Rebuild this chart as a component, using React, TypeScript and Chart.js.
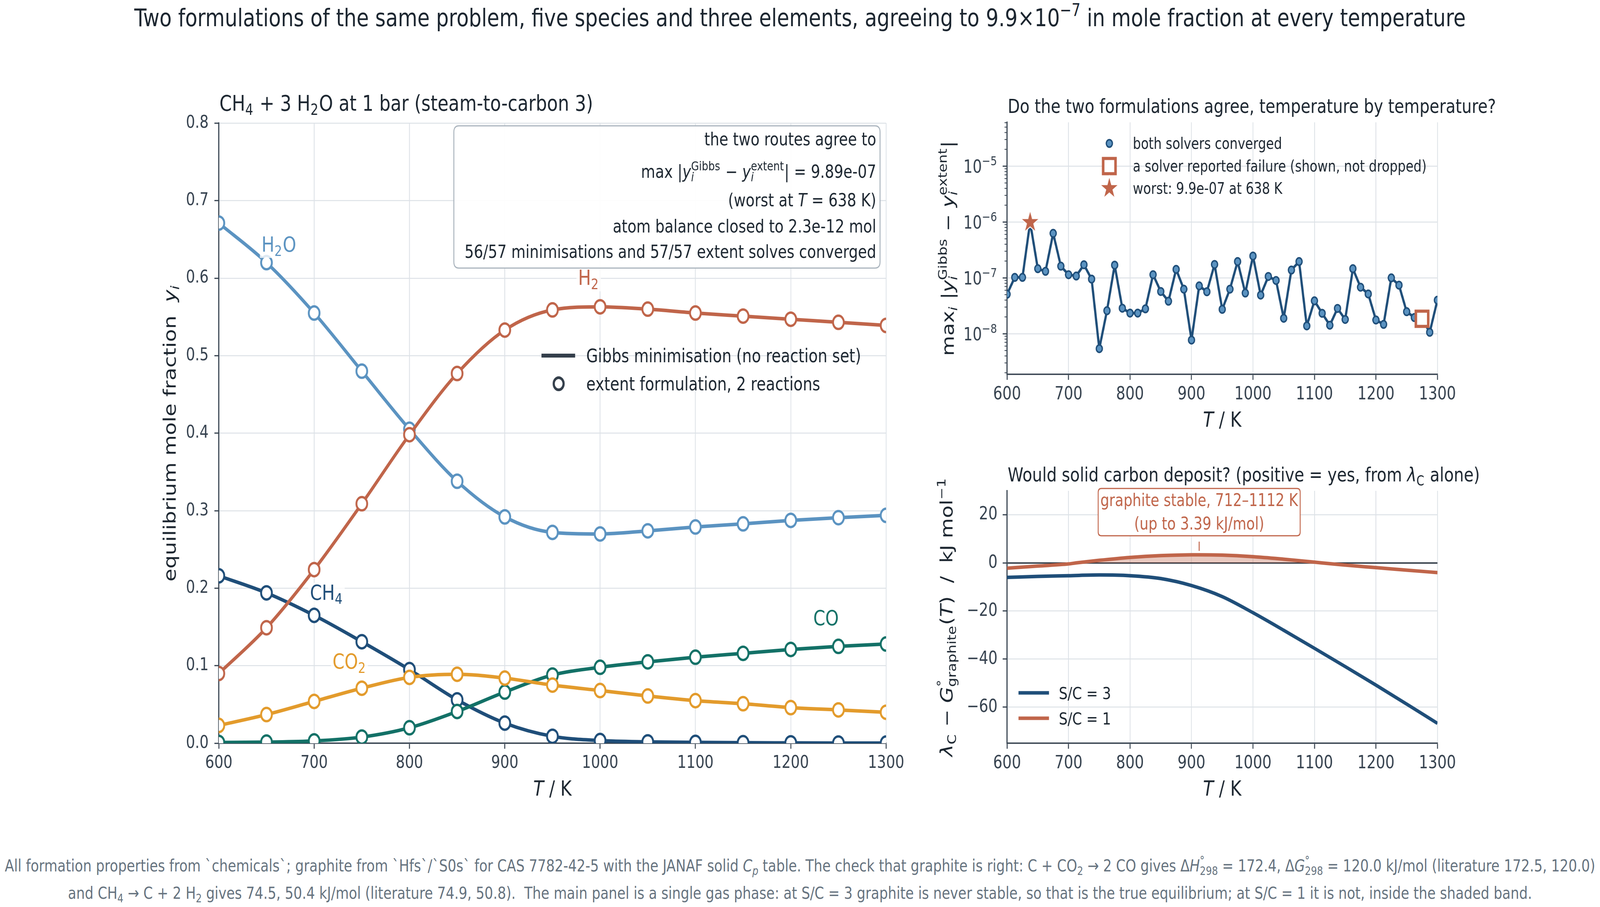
import React, { useEffect, useRef } from 'react';
import { Chart, registerables } from 'chart.js';

Chart.register(...registerables);

// ---------------- data ----------------
const T_EXT = [600, 650, 700, 750, 800, 850, 900, 950, 1000, 1050, 1100, 1150, 1200, 1250, 1300];
const Y_CH4 = [0.216, 0.194, 0.165, 0.131, 0.095, 0.056, 0.026, 0.009, 0.0035, 0.0018, 0.0011, 0.0007, 0.0005, 0.0003, 0.0002];
const Y_H2O = [0.671, 0.62, 0.555, 0.48, 0.405, 0.338, 0.292, 0.272, 0.27, 0.274, 0.279, 0.283, 0.2875, 0.291, 0.294];
const Y_H2 = [0.09, 0.149, 0.224, 0.309, 0.398, 0.477, 0.533, 0.559, 0.563, 0.56, 0.555, 0.551, 0.547, 0.543, 0.539];
const Y_CO = [0.001, 0.0015, 0.003, 0.008, 0.02, 0.041, 0.066, 0.088, 0.098, 0.105, 0.111, 0.116, 0.121, 0.125, 0.128];
const Y_CO2 = [0.023, 0.037, 0.054, 0.071, 0.085, 0.089, 0.084, 0.075, 0.068, 0.061, 0.055, 0.051, 0.046, 0.043, 0.04];

const AGREE_T = [600, 612.5, 625, 637.5, 650, 662.5, 675, 687.5, 700, 712.5, 725, 737.5, 750, 762.5, 775, 787.5,
  800, 812.5, 825, 837.5, 850, 862.5, 875, 887.5, 900, 912.5, 925, 937.5, 950, 962.5, 975, 987.5, 1000, 1012.5,
  1025, 1037.5, 1050, 1062.5, 1075, 1087.5, 1100, 1112.5, 1125, 1137.5, 1150, 1162.5, 1175, 1187.5, 1200, 1212.5,
  1225, 1237.5, 1250, 1262.5, 1275, 1287.5, 1300];
const AGREE_V = [5.1e-8, 1.02e-7, 1.02e-7, 9.89e-7, 1.46e-7, 1.31e-7, 6.27e-7, 1.62e-7, 1.14e-7, 1.08e-7, 1.72e-7, 9.5e-8,
  5.4e-9, 2.58e-8, 1.69e-7, 2.86e-8, 2.34e-8, 2.34e-8, 2.79e-8, 1.14e-7, 5.7e-8, 3.82e-8, 1.42e-7, 6.28e-8,
  7.7e-9, 7.18e-8, 5.64e-8, 1.74e-7, 2.73e-8, 6.28e-8, 1.96e-7, 5.35e-8, 2.46e-7, 4.91e-8, 1.06e-7, 8.98e-8,
  1.89e-8, 1.38e-7, 1.96e-7, 1.38e-8, 3.88e-8, 2.32e-8, 1.42e-8, 2.84e-8, 1.8e-8, 1.46e-7, 6.8e-8, 5.15e-8,
  1.76e-8, 1.47e-8, 1.0e-7, 7.4e-8, 2.48e-8, 1.95e-8, 1.85e-8, 1.06e-8, 3.98e-8];
const FAILED_IDX = [54];
const WORST_T = [637.5];
const WORST_V = [9.89e-7];

const T_C3 = [600, 650, 700, 750, 800, 850, 900, 950, 1000, 1050, 1100, 1150, 1200, 1250, 1300];
const LAM_C3 = [-6.0, -5.6, -5.3, -5.0, -5.3, -6.5, -9.4, -14.0, -20.7, -28.0, -35.5, -43.1, -50.8, -58.7, -66.7];
const T_C1 = [600, 650, 700, 712, 750, 800, 850, 900, 912, 950, 1000, 1050, 1100, 1112, 1150, 1200, 1250, 1300];
const LAM_C1 = [-2.2, -1.3, -0.4, 0.0, 1.1, 2.3, 3.05, 3.37, 3.39, 3.25, 2.6, 1.55, 0.35, 0.0, -0.9, -1.95, -3.0, -4.0];
const GRAPHITE_BAND = [712, 1112];
const BAND_PEAK = [912.5, 3.39];

const X_TICKS = [600, 700, 800, 900, 1000, 1100, 1200, 1300];
const Y_TICKS_MAIN = [0, 0.1, 0.2, 0.3, 0.4, 0.5, 0.6, 0.7, 0.8];
const LOG_MAJOR = [1e-8, 1e-7, 1e-6, 1e-5];
const LOG_EXP = ['−8', '−7', '−6', '−5'];
const LOG_DECADES = [1e-9, 1e-8, 1e-7, 1e-6, 1e-5];
const LOG_MINOR_MULT = [2, 3, 4, 5, 6, 7, 8, 9];
const LAM_TICKS = [-60, -40, -20, 0, 20];

// ---------------- style ----------------
const FAM = '"DejaVu Sans"';
const TEXT = '#1c2630';
const AXIS = '#36424f';
const GRID = '#dde2e7';
const ZERO = '#2b3540';
const C_CH4 = '#1f4e79';
const C_H2O = '#5b93c1';
const C_H2 = '#c0654a';
const C_CO = '#137167';
const C_CO2 = '#e39b2c';
const FOOT = '#66737f';

const FIG_W = 5038;
const FIG_H = 2321;
const MAIN_OFF = [420, 200];
const TR_OFF = [2900, 200];
const BR_OFF = [2900, 1150];
const SIDE_W = FIG_W - 2900;

// ---------------- rich text ----------------
type Seg = { t?: string; it?: boolean; sub?: string; sup?: string; subIt?: boolean; supIt?: boolean };
const fnt = (size: number, it?: boolean) => `${it ? 'italic ' : ''}${size}px ${FAM}`;
function segW(ctx: CanvasRenderingContext2D, s: Seg, size: number) {
  if (s.t !== undefined) { ctx.font = fnt(size, s.it); return ctx.measureText(s.t).width; }
  const ss = size * 0.7;
  let a = 0, b = 0;
  if (s.sub) { ctx.font = fnt(ss, s.subIt); a = ctx.measureText(s.sub).width; }
  if (s.sup) { ctx.font = fnt(ss, s.supIt); b = ctx.measureText(s.sup).width; }
  return Math.max(a, b) + size * 0.04;
}
function richW(ctx: CanvasRenderingContext2D, segs: Seg[], size: number) {
  let w = 0; for (const s of segs) w += segW(ctx, s, size); return w;
}
function drawRich(ctx: CanvasRenderingContext2D, segs: Seg[], x: number, y: number, size: number, color: string,
  align: 'left' | 'center' | 'right' = 'left', rot = 0) {
  ctx.save();
  ctx.translate(x, y);
  if (rot) ctx.rotate(rot);
  const W = richW(ctx, segs, size);
  let cx = align === 'left' ? 0 : align === 'center' ? -W / 2 : -W;
  ctx.textBaseline = 'alphabetic';
  ctx.textAlign = 'left';
  ctx.fillStyle = color;
  for (const s of segs) {
    if (s.t !== undefined) {
      ctx.font = fnt(size, s.it); ctx.fillText(s.t, cx, 0); cx += ctx.measureText(s.t).width; continue;
    }
    const ss = size * 0.7;
    if (s.sub) { ctx.font = fnt(ss, s.subIt); ctx.fillText(s.sub, cx, size * 0.2); }
    if (s.sup) { ctx.font = fnt(ss, s.supIt); ctx.fillText(s.sup, cx, -size * 0.42); }
    cx += segW(ctx, s, size);
  }
  ctx.restore();
  return W;
}
function rr(ctx: CanvasRenderingContext2D, x: number, y: number, w: number, h: number, r: number) {
  ctx.beginPath();
  ctx.moveTo(x + r, y); ctx.lineTo(x + w - r, y); ctx.quadraticCurveTo(x + w, y, x + w, y + r);
  ctx.lineTo(x + w, y + h - r); ctx.quadraticCurveTo(x + w, y + h, x + w - r, y + h);
  ctx.lineTo(x + r, y + h); ctx.quadraticCurveTo(x, y + h, x, y + h - r);
  ctx.lineTo(x, y + r); ctx.quadraticCurveTo(x, y, x + r, y); ctx.closePath();
}
function makeStar(): HTMLCanvasElement {
  const S = 72; const c = document.createElement('canvas'); c.width = S; c.height = S;
  const g = c.getContext('2d')!;
  const R = 31, r = R * 0.381966, cx = S / 2, cy = S / 2;
  g.beginPath();
  for (let k = 0; k < 10; k++) {
    const ang = -Math.PI / 2 + k * Math.PI / 5; const rad = k % 2 === 0 ? R : r;
    g.lineTo(cx + rad * Math.cos(ang), cy + rad * Math.sin(ang));
  }
  g.closePath(); g.fillStyle = C_H2; g.fill(); g.lineWidth = 2.5; g.strokeStyle = '#ffffff'; g.lineJoin = 'miter'; g.stroke();
  return c;
}

// ---------------- text content ----------------
const TITLE_MAIN: Seg[] = [{ t: 'CH' }, { sub: '4' }, { t: ' + 3 H' }, { sub: '2' }, { t: 'O at 1 bar (steam-to-carbon 3)' }];
const YLAB_MAIN: Seg[] = [{ t: 'equilibrium mole fraction  ' }, { t: 'y', it: true }, { sub: 'i', subIt: true }];
const XLAB: Seg[] = [{ t: 'T', it: true }, { t: ' / K' }];
const ANNOT_LINES: Seg[][] = [
  [{ t: 'the two routes agree to' }],
  [{ t: 'max |' }, { t: 'y', it: true }, { sub: 'i', subIt: true, sup: 'Gibbs' }, { t: ' − ' }, { t: 'y', it: true }, { sub: 'i', subIt: true, sup: 'extent' }, { t: '| = 9.89e-07' }],
  [{ t: '(worst at ' }, { t: 'T', it: true }, { t: ' = 638 K)' }],
  [{ t: 'atom balance closed to 2.3e-12 mol' }],
  [{ t: '56/57 minimisations and 57/57 extent solves converged' }],
];
const ANNOT_BASE = [372, 455, 528, 595, 660];
const SPECIES_LABELS: { segs: Seg[]; x: number; y: number; color: string }[] = [
  { segs: [{ t: 'H' }, { sub: '2' }, { t: 'O' }], x: 663, y: 0.644, color: C_H2O },
  { segs: [{ t: 'H' }, { sub: '2' }], x: 988, y: 0.601, color: C_H2 },
  { segs: [{ t: 'CH' }, { sub: '4' }], x: 713, y: 0.195, color: C_CH4 },
  { segs: [{ t: 'CO' }, { sub: '2' }], x: 737, y: 0.106, color: C_CO2 },
  { segs: [{ t: 'CO' }], x: 1237, y: 0.162, color: C_CO },
];
const TITLE_TR: Seg[] = [{ t: 'Do the two formulations agree, temperature by temperature?' }];
const YLAB_TR: Seg[] = [{ t: 'max' }, { sub: 'i', subIt: true }, { t: ' |' }, { t: 'y', it: true }, { sub: 'i', subIt: true, sup: 'Gibbs' }, { t: ' − ' }, { t: 'y', it: true }, { sub: 'i', subIt: true, sup: 'extent' }, { t: '|' }];
const TITLE_BR: Seg[] = [{ t: 'Would solid carbon deposit? (positive = yes, from ' }, { t: 'λ', it: true }, { sub: 'C' }, { t: ' alone)' }];
const YLAB_BR: Seg[] = [{ t: 'λ', it: true }, { sub: 'C' }, { t: ' − ' }, { t: 'G', it: true }, { sup: '°', sub: 'graphite' }, { t: '(' }, { t: 'T', it: true }, { t: ')  /  kJ mol' }, { sup: '−1' }];

// ---------------- axes ----------------
function axis(o: { min: number; max: number; ticks: number[]; fmt: (v: number) => string; size: number; pad: number; fit: (s: any) => void; zero?: boolean }): any {
  return {
    type: 'linear', min: o.min, max: o.max,
    afterBuildTicks: (s: any) => { s.ticks = o.ticks.map((v) => ({ value: v })); },
    afterFit: o.fit,
    ticks: { callback: (v: any) => o.fmt(Number(v)), font: { family: FAM, size: o.size }, color: AXIS, padding: o.pad, autoSkip: false, maxRotation: 0, minRotation: 0 },
    grid: {
      color: o.zero ? (c: any) => (c.tick && c.tick.value === 0 ? ZERO : GRID) : GRID,
      lineWidth: o.zero ? (c: any) => (c.tick && c.tick.value === 0 ? 3.5 : 2.5) : 2.5,
      tickColor: AXIS, tickLength: 14, tickWidth: 3,
    },
    border: { display: true, color: AXIS, width: 3.5 },
  };
}
const minus = (v: number) => (v < 0 ? '−' + Math.abs(v) : String(v));
const baseOpts = (pad: any) => ({
  responsive: false, animation: false, devicePixelRatio: 1, events: [],
  layout: { padding: pad },
  plugins: { legend: { display: false }, title: { display: false }, tooltip: { enabled: false } },
});

// ---------------- main panel ----------------
const mainOverlay = {
  id: 'mainOverlay',
  afterDraw(chart: any) {
    const ctx: CanvasRenderingContext2D = chart.ctx; const ca = chart.chartArea;
    const xs = chart.scales.x, ys = chart.scales.y;
    const ox = MAIN_OFF[0], oy = MAIN_OFF[1];
    drawRich(ctx, TITLE_MAIN, ca.left + 2, 283 - oy, 56, TEXT, 'left');
    drawRich(ctx, YLAB_MAIN, 553 - ox, (ca.top + ca.bottom) / 2, 54, TEXT, 'center', -Math.PI / 2);
    drawRich(ctx, XLAB, (ca.left + ca.right) / 2, 2036 - oy, 54, TEXT, 'center');
    for (const l of SPECIES_LABELS) {
      const size = 54;
      const px = xs.getPixelForValue(l.x), py = ys.getPixelForValue(l.y);
      const w = richW(ctx, l.segs, size);
      const base = py + size * 0.36;
      ctx.fillStyle = 'rgba(255,255,255,0.8)';
      ctx.fillRect(px - w / 2 - 5, base - size * 0.8, w + 10, size * 1.1);
      drawRich(ctx, l.segs, px, base, size, l.color, 'center');
    }
    ctx.save();
    rr(ctx, 1429 - ox, 322 - oy, 2771 - 1429, 686 - 322, 16);
    ctx.fillStyle = 'rgba(255,255,255,0.92)'; ctx.fill();
    ctx.lineWidth = 3; ctx.strokeStyle = '#aab4bd'; ctx.stroke();
    ctx.restore();
    ANNOT_LINES.forEach((segs, i) => drawRich(ctx, segs, 2759 - ox, ANNOT_BASE[i] - oy, 46, TEXT, 'right'));
    ctx.save();
    ctx.strokeStyle = '#343f4b'; ctx.lineWidth = 10; ctx.lineCap = 'butt';
    ctx.beginPath(); ctx.moveTo(1705 - ox, 910 - oy); ctx.lineTo(1811 - ox, 910 - oy); ctx.stroke();
    ctx.lineWidth = 7; ctx.fillStyle = '#ffffff';
    ctx.beginPath(); ctx.arc(1759 - ox, 982 - oy, 15.5, 0, Math.PI * 2); ctx.fill(); ctx.stroke();
    ctx.restore();
    drawRich(ctx, [{ t: 'Gibbs minimisation (no reaction set)' }], 1846 - ox, 910 - oy + 17, 47.5, TEXT, 'left');
    drawRich(ctx, [{ t: 'extent formulation, 2 reactions' }], 1846 - ox, 982 - oy + 17, 47.5, TEXT, 'left');
  },
};

function mainConfig(): any {
  const order = [
    { vals: Y_CH4, color: C_CH4 }, { vals: Y_H2O, color: C_H2O }, { vals: Y_H2, color: C_H2 },
    { vals: Y_CO, color: C_CO }, { vals: Y_CO2, color: C_CO2 },
  ];
  const ds: any[] = [];
  order.forEach((sp) => {
    const pts = T_EXT.map((t, i) => ({ x: t, y: sp.vals[i] }));
    ds.push({ data: pts, borderColor: sp.color, borderWidth: 9, pointRadius: 0, cubicInterpolationMode: 'monotone', clip: 0, fill: false });
    ds.push({ data: pts, showLine: false, pointRadius: 17, pointBorderWidth: 6, pointBackgroundColor: '#ffffff', pointBorderColor: sp.color, clip: 0 });
  });
  ds.reverse();
  return {
    type: 'line',
    data: { datasets: ds },
    options: {
      ...baseOpts({ left: 0, right: 80, top: 115, bottom: 0 }),
      scales: {
        x: axis({ min: 600, max: 1300, ticks: X_TICKS, fmt: (v) => String(v), size: 45, pad: 10, fit: (s) => { s.height = 198; } }),
        y: axis({ min: 0, max: 0.8, ticks: Y_TICKS_MAIN, fmt: (v) => v.toFixed(1), size: 45, pad: 18, fit: (s) => { s.width = 269; } }),
      },
    },
    plugins: [mainOverlay],
  };
}

// ---------------- agreement panel ----------------
function trOverlay(star: HTMLCanvasElement) {
  return {
    id: 'trOverlay',
    afterDraw(chart: any) {
      const ctx: CanvasRenderingContext2D = chart.ctx; const ca = chart.chartArea;
      const ys = chart.scales.y;
      const ox = TR_OFF[0], oy = TR_OFF[1];
      ctx.save(); ctx.strokeStyle = AXIS; ctx.lineWidth = 2;
      ys.ticks.forEach((t: any) => {
        const y = ys.getPixelForValue(t.value);
        if (!t.major) { ctx.beginPath(); ctx.moveTo(ca.left - 8, y); ctx.lineTo(ca.left, y); ctx.stroke(); }
      });
      ctx.restore();
      ys.ticks.forEach((t: any) => {
        const i = LOG_MAJOR.indexOf(t.value);
        if (i < 0) return;
        const y = ys.getPixelForValue(t.value);
        drawRich(ctx, [{ t: '10' }, { sup: LOG_EXP[i] }], ca.left - 30, y + 17, 46, AXIS, 'right');
      });
      drawRich(ctx, TITLE_TR, ca.left + 2, 289 - oy, 49.8, TEXT, 'left');
      drawRich(ctx, YLAB_TR, 3003 - ox, (ca.top + ca.bottom) / 2, 53, TEXT, 'center', -Math.PI / 2);
      drawRich(ctx, XLAB, (ca.left + ca.right) / 2, 1092 - oy, 54, TEXT, 'center');
      const mx = 3493 - ox;
      const rows = [367 - oy, 425 - oy, 482 - oy];
      ctx.save();
      ctx.beginPath(); ctx.arc(mx, rows[0], 9.5, 0, Math.PI * 2); ctx.fillStyle = C_H2O; ctx.fill();
      ctx.lineWidth = 4; ctx.strokeStyle = C_CH4; ctx.stroke();
      ctx.fillStyle = '#ffffff'; ctx.fillRect(mx - 19.5, rows[1] - 19.5, 39, 39);
      ctx.lineWidth = 8; ctx.strokeStyle = C_H2; ctx.strokeRect(mx - 19.5, rows[1] - 19.5, 39, 39);
      ctx.drawImage(star, mx - star.width / 2, rows[2] - star.height / 2);
      ctx.restore();
      const tx = 3567 - ox;
      drawRich(ctx, [{ t: 'both solvers converged' }], tx, rows[0] + 14, 40, TEXT);
      drawRich(ctx, [{ t: 'a solver reported failure (shown, not dropped)' }], tx, rows[1] + 14, 40, TEXT);
      drawRich(ctx, [{ t: 'worst: 9.9e-07 at 638 K' }], tx, rows[2] + 14, 40, TEXT);
    },
  };
}

function agreeConfig(star: HTMLCanvasElement): any {
  const pts = AGREE_T.map((t, i) => ({ x: t, y: AGREE_V[i] }));
  const ds = [
    { data: WORST_T.map((t, i) => ({ x: t, y: WORST_V[i] })), showLine: false, pointStyle: star, pointRadius: 10, clip: false },
    { data: FAILED_IDX.map((i) => ({ x: AGREE_T[i], y: AGREE_V[i] })), showLine: false, pointStyle: 'rect', pointRadius: 27.5, pointBorderWidth: 8, pointBorderColor: C_H2, pointBackgroundColor: '#ffffff', clip: false },
    { data: pts, borderColor: C_CH4, borderWidth: 7, pointRadius: 9.5, pointBorderWidth: 4, pointBackgroundColor: C_H2O, pointBorderColor: C_CH4, clip: 0, borderJoinStyle: 'round' },
  ];
  const logTicks: { value: number; major: boolean }[] = [];
  LOG_DECADES.forEach((d) => {
    if (LOG_MAJOR.includes(d)) logTicks.push({ value: d, major: true });
    LOG_MINOR_MULT.forEach((m) => logTicks.push({ value: m * d, major: false }));
  });
  const yMin = 1.87e-9, yMax = 6.1e-5;
  return {
    type: 'line',
    data: { datasets: ds },
    options: {
      ...baseOpts({ left: 0, right: SIDE_W - 1626, top: 113, bottom: 0 }),
      scales: {
        x: axis({ min: 600, max: 1300, ticks: X_TICKS, fmt: (v) => String(v), size: 46, pad: 10, fit: (s) => { s.height = 162; } }),
        y: {
          type: 'logarithmic', min: yMin, max: yMax,
          afterBuildTicks: (s: any) => { s.ticks = logTicks.filter((t) => t.value >= yMin && t.value <= yMax).map((t) => ({ ...t })); },
          afterFit: (s: any) => { s.width = 271; },
          ticks: { callback: () => '', font: { family: FAM, size: 46 }, color: AXIS, padding: 16, autoSkip: false },
          grid: {
            color: (c: any) => (c.tick && c.tick.major ? GRID : 'rgba(0,0,0,0)'),
            tickColor: (c: any) => (c.tick && c.tick.major ? AXIS : 'rgba(0,0,0,0)'),
            lineWidth: 2.5, tickLength: 14, tickWidth: 3,
          },
          border: { display: true, color: AXIS, width: 3.5 },
        },
      },
    },
    plugins: [trOverlay(star)],
  };
}

// ---------------- carbon panel ----------------
const brOverlay = {
  id: 'brOverlay',
  afterDraw(chart: any) {
    const ctx: CanvasRenderingContext2D = chart.ctx; const ca = chart.chartArea;
    const xs = chart.scales.x, ys = chart.scales.y;
    const ox = BR_OFF[0], oy = BR_OFF[1];
    drawRich(ctx, TITLE_BR, ca.left + 2, 1232 - oy, 50, TEXT, 'left');
    drawRich(ctx, YLAB_BR, 2999 - ox, (ca.top + ca.bottom) / 2, 53, TEXT, 'center', -Math.PI / 2);
    drawRich(ctx, XLAB, (ca.left + ca.right) / 2, 2036 - oy, 54, TEXT, 'center');
    const ax = xs.getPixelForValue(BAND_PEAK[0]);
    const ay = ys.getPixelForValue(BAND_PEAK[1]);
    ctx.save();
    ctx.strokeStyle = C_H2; ctx.lineWidth = 3;
    ctx.beginPath(); ctx.moveTo(ax, 1386 - oy); ctx.lineTo(ax, ay - 10); ctx.stroke();
    rr(ctx, ax - 318, 1250 - oy, 636, 1371 - 1250, 10);
    ctx.fillStyle = '#ffffff'; ctx.fill(); ctx.lineWidth = 3; ctx.stroke();
    ctx.restore();
    drawRich(ctx, [{ t: 'graphite stable, 712–1112 K' }], ax, 1295 - oy, 44, C_H2, 'center');
    drawRich(ctx, [{ t: '(up to 3.39 kJ/mol)' }], ax, 1355 - oy, 44, C_H2, 'center');
    ctx.save(); ctx.lineWidth = 9; ctx.lineCap = 'butt';
    ctx.strokeStyle = C_CH4; ctx.beginPath(); ctx.moveTo(3207 - ox, 1773 - oy); ctx.lineTo(3303 - ox, 1773 - oy); ctx.stroke();
    ctx.strokeStyle = C_H2; ctx.beginPath(); ctx.moveTo(3207 - ox, 1838 - oy); ctx.lineTo(3303 - ox, 1838 - oy); ctx.stroke();
    ctx.restore();
    drawRich(ctx, [{ t: 'S/C = 3' }], 3334 - ox, 1773 - oy + 16, 43.5, TEXT);
    drawRich(ctx, [{ t: 'S/C = 1' }], 3334 - ox, 1838 - oy + 16, 43.5, TEXT);
  },
};

function carbonConfig(): any {
  const sc1 = T_C1.map((t, i) => ({ x: t, y: LAM_C1[i] }));
  const shade = sc1.filter((p) => p.x >= GRAPHITE_BAND[0] && p.x <= GRAPHITE_BAND[1]);
  const ds = [
    { data: T_C3.map((t, i) => ({ x: t, y: LAM_C3[i] })), borderColor: C_CH4, borderWidth: 9, pointRadius: 0, cubicInterpolationMode: 'monotone', clip: 0, fill: false },
    { data: sc1, borderColor: C_H2, borderWidth: 9, pointRadius: 0, cubicInterpolationMode: 'monotone', clip: 0, fill: false },
    { data: shade, borderColor: 'rgba(0,0,0,0)', borderWidth: 0, pointRadius: 0, cubicInterpolationMode: 'monotone', clip: 0, fill: 'origin', backgroundColor: 'rgba(192,101,74,0.35)' },
  ];
  return {
    type: 'line',
    data: { datasets: ds },
    options: {
      ...baseOpts({ left: 0, right: SIDE_W - 1626, top: 106, bottom: 0 }),
      scales: {
        x: axis({ min: 600, max: 1300, ticks: X_TICKS, fmt: (v) => String(v), size: 46, pad: 10, fit: (s) => { s.height = 198; } }),
        y: axis({ min: -75, max: 30, ticks: LAM_TICKS, fmt: minus, size: 46, pad: 16, fit: (s) => { s.width = 271; }, zero: true }),
      },
    },
    plugins: [brOverlay],
  };
}

// ---------------- html text helpers ----------------
const Sub = ({ children, it }: any) => (
  <span style={{ fontSize: '0.7em', position: 'relative', top: '0.3em', fontStyle: it ? 'italic' : 'normal' }}>{children}</span>
);
const Sup = ({ children }: any) => (
  <span style={{ fontSize: '0.7em', position: 'relative', top: '-0.6em' }}>{children}</span>
);
const SupSub = ({ sup, sub }: any) => (
  <>
    <span style={{ fontSize: '0.7em', position: 'relative', top: '-0.6em' }}>{sup}</span>
    <span style={{ fontSize: '0.7em', position: 'relative', top: '0.3em', marginLeft: '-0.5em' }}>{sub}</span>
  </>
);

export default function App() {
  const mainRef = useRef<HTMLCanvasElement>(null);
  const trRef = useRef<HTMLCanvasElement>(null);
  const brRef = useRef<HTMLCanvasElement>(null);

  useEffect(() => {
    Chart.defaults.font.family = FAM;
    const charts: Chart[] = [];
    const star = makeStar();
    if (mainRef.current) charts.push(new Chart(mainRef.current, mainConfig()));
    if (trRef.current) charts.push(new Chart(trRef.current, agreeConfig(star)));
    if (brRef.current) charts.push(new Chart(brRef.current, carbonConfig()));
    return () => charts.forEach((c) => c.destroy());
  }, []);

  // The browser may clamp the window below the requested figure size; fit the figure to the viewport.
  const vw = typeof window !== 'undefined' && window.innerWidth ? window.innerWidth : FIG_W;
  const vh = typeof window !== 'undefined' && window.innerHeight ? window.innerHeight : FIG_H;
  const kx = Math.min(1, vw / FIG_W);
  const ky = Math.min(1, vh / FIG_H);
  const abs = (l: number, t: number, w: number, h: number): React.CSSProperties => ({ position: 'absolute', left: l, top: t, width: w, height: h });

  return (
    <div style={{ position: 'absolute', left: 0, top: 0, width: FIG_W * kx, height: FIG_H * ky, overflow: 'hidden', background: '#ffffff' }}>
      <div style={{ position: 'absolute', left: 0, top: 0, width: FIG_W, height: FIG_H, background: '#ffffff', fontFamily: FAM, transform: `scale(${kx}, ${ky})`, transformOrigin: '0 0' }}>
        <div style={{ position: 'absolute', left: 0, top: 14, width: FIG_W, textAlign: 'center', fontSize: 63, lineHeight: '63px', color: TEXT, whiteSpace: 'pre' }}>
          {'Two formulations of the same problem, five species and three elements, agreeing to 9.9×10'}<Sup>−7</Sup>{' in mole fraction at every temperature'}
        </div>
        <canvas ref={mainRef} width={2450} height={1900} style={abs(MAIN_OFF[0], MAIN_OFF[1], 2450, 1900)} />
        <canvas ref={trRef} width={SIDE_W} height={920} style={abs(TR_OFF[0], TR_OFF[1], SIDE_W, 920)} />
        <canvas ref={brRef} width={SIDE_W} height={950} style={abs(BR_OFF[0], BR_OFF[1], SIDE_W, 950)} />
        <div style={{ position: 'absolute', left: 0, top: 2194, width: FIG_W, textAlign: 'center', fontSize: 42.6, lineHeight: '42px', color: FOOT, whiteSpace: 'pre' }}>
          {'All formation properties from `chemicals`; graphite from `Hfs`/`S0s` for CAS 7782-42-5 with the JANAF solid '}<i>C</i><Sub it>p</Sub>
          {' table. The check that graphite is right: C + CO'}<Sub>2</Sub>{' → 2 CO gives Δ'}<i>H</i><SupSub sup="°" sub="298" />
          {' = 172.4, Δ'}<i>G</i><SupSub sup="°" sub="298" />{' = 120.0 kJ/mol (literature 172.5, 120.0)'}
        </div>
        <div style={{ position: 'absolute', left: 0, top: 2264, width: FIG_W, textAlign: 'center', fontSize: 42.6, lineHeight: '42px', color: FOOT, whiteSpace: 'pre' }}>
          {'and CH'}<Sub>4</Sub>{' → C + 2 H'}<Sub>2</Sub>{' gives 74.5, 50.4 kJ/mol (literature 74.9, 50.8).  The main panel is a single gas phase: at S/C = 3 graphite is never stable, so that is the true equilibrium; at S/C = 1 it is not, inside the shaded band.'}
        </div>
      </div>
    </div>
  );
}
